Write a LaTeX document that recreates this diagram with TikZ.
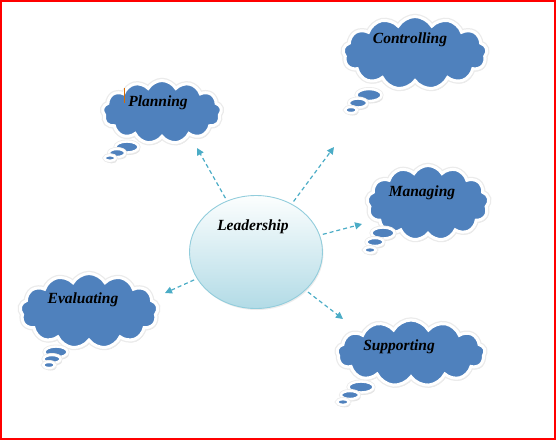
\documentclass[tikz,border=0pt]{standalone}
\usepackage{fontspec}
\setmainfont{Liberation Serif}
\usetikzlibrary{
	shapes,
	shadows,
	arrows.meta}

\definecolor{cloudblue}{RGB}{79,129,189}
\definecolor{linkblue}{RGB}{75,172,198}
\definecolor{leadtop}{RGB}{252,254,254}
\definecolor{leadbot}{RGB}{178,219,230}
\definecolor{leadrim}{RGB}{146,205,220}

\begin{document}
\begin{tikzpicture}[x=1pt,y=-1pt,every text node part/.style={align=center},
  puffy/.style={fill=cloudblue,draw=white,
    drop shadow={shadow xshift=1.5pt,shadow yshift=-2.5pt,fill=black!22}},
  thought/.style={puffy,cloud,cloud puffs=13,cloud puff arc=120,cloud ignores aspect,
    inner sep=0pt,line width=3pt,preaction={draw=black!8,line width=5.5pt}},
  bubble/.style={puffy,line width=2.4pt,preaction={draw=black!8,line width=4pt}},
  leadbox/.style={ellipse,inner sep=0pt,minimum width=133pt,minimum height=113pt,
    top color=leadtop,bottom color=leadbot,draw=leadrim,line width=0.9pt,
    drop shadow={shadow xshift=1pt,shadow yshift=-1.5pt,fill=black!15}},
  word/.style={font=\fontsize{15.5}{18}\selectfont\bfseries\itshape},
  link/.style={draw=linkblue,dash pattern=on 4pt off 3pt,line width=1.2pt,
    -{Triangle[length=7pt,width=7pt]},shorten <=3pt}]
  \useasboundingbox (0,0) rectangle (556,440);
  \draw [red,line width=1.5pt] (1,1) rectangle (555,439);

  % Clouds
  \node [thought,minimum width=119pt,minimum height=63pt] (plan) at (162,112) {};
  \node [thought,minimum width=144pt,minimum height=73pt] (ctrl) at (415,53) {};
  \node [thought,minimum width=122pt,minimum height=75pt] (mng)  at (428,203) {};
  \node [thought,minimum width=138pt,minimum height=75pt] (eval) at (89,311) {};
  \node [thought,minimum width=148pt,minimum height=66pt] (supp) at (411,353) {};

  % thought bubbles
  \foreach \x/\y/\a/\b in {127/147/11.5/5.5, 117/153/8/4, 110/158/5.5/2.8,
                           369/95/12.5/6, 358/103/9/4.5, 351/110/6/3,
                           383/233/11.5/5.5, 375/242/8.5/4, 370/250/6/2.8,
                           56/352/11.5/5.5, 52/359/8.5/4, 49/365/6/3,
                           361/387/12.5/5.5, 350/395/9/4, 343/402/6/2.8}
    \path [bubble] (\x,\y) ellipse [x radius=\a pt,y radius=\b pt];

  \node [word] (planT) at (158,103) {Planning};
  \node [word] (ctrlT) at (410,40) {Controlling};
  \node [word] (mngT)  at (422,193) {Managing};
  \node [word] (evalT) at (83,300) {Evaluating};
  \node [word] (suppT) at (399,347) {Supporting};
  \draw [orange!85!black,line width=1pt] (124,88) -- (124,103);

  % Centre
  \node [leadbox] (lead) at (256,252) {};
  \node [word] (leadT) at (253,227) {Leadership};

  \coordinate (planEnd) at (197,148);
  \coordinate (ctrlEnd) at (334,147);
  \coordinate (mngEnd)  at (362,224);
  \coordinate (evalEnd) at (165,293);
  \coordinate (suppEnd) at (343,319);

  \draw [link] (lead) -- (planEnd);
  \draw [link] (lead) -- (ctrlEnd);
  \draw [link] (lead) -- (mngEnd);
  \draw [link] (lead) -- (evalEnd);
  \draw [link] (lead) -- (suppEnd);
\end{tikzpicture}
\end{document}
